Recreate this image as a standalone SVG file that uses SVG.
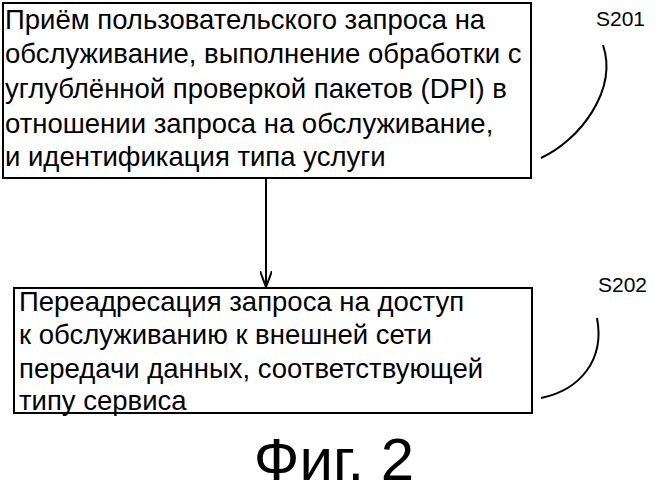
<svg xmlns="http://www.w3.org/2000/svg" width="657" height="500" viewBox="0 0 657 500">
<defs><style>
.t{font-family:"Liberation Sans",Arial,sans-serif;font-size:27.5px;fill:#000}
.s{font-family:"Liberation Sans",Arial,sans-serif;font-size:21px;fill:#000}
.b{fill:#fff;stroke:#000;stroke-width:2}
.c{fill:none;stroke:#000;stroke-width:2}
</style>
<marker id="ah" markerWidth="16" markerHeight="12" refX="16" refY="6" orient="auto" markerUnits="userSpaceOnUse"><path d="M0,0 L16,6 L0,12" fill="none" stroke="#000" stroke-width="2"/></marker></defs>
<rect width="657" height="500" fill="#fff"/>
<g id="n1"><rect class="b" x="3" y="3" width="528" height="175"/>
<text class="t" x="5" y="29">Приём пользовательского запроса на</text>
<text class="t" x="5" y="63">обслуживание, выполнение обработки с</text>
<text class="t" x="5" y="98">углублённой проверкой пакетов (DPI) в</text>
<text class="t" x="5" y="133">отношении запроса на обслуживание,</text>
<text class="t" x="5" y="166">и идентификация типа услуги</text></g>
<g id="n2"><rect class="b" x="14" y="288" width="518" height="125"/>
<text class="t" x="19" y="311">Переадресация запроса на доступ</text>
<text class="t" x="19" y="344">к обслуживанию к внешней сети</text>
<text class="t" x="19" y="378">передачи данных, соответствующей</text>
<text class="t" x="19" y="410">типу сервиса</text></g>
<g id="l1"><text class="s" x="596" y="26">S201</text>
<path class="c" d="M603,45 C618,90 580,140 541,158"/></g>
<g id="l2"><text class="s" x="598" y="292">S202</text>
<path class="c" d="M597,318 C605,360 580,390 541,398"/></g>
<g id="connectors"><line class="c" x1="266" y1="178" x2="266" y2="287" marker-end="url(#ah)"/></g>
<text x="334" y="480" text-anchor="middle" font-family="Liberation Sans,Arial,sans-serif" font-size="60">Фиг. 2</text>
</svg>
